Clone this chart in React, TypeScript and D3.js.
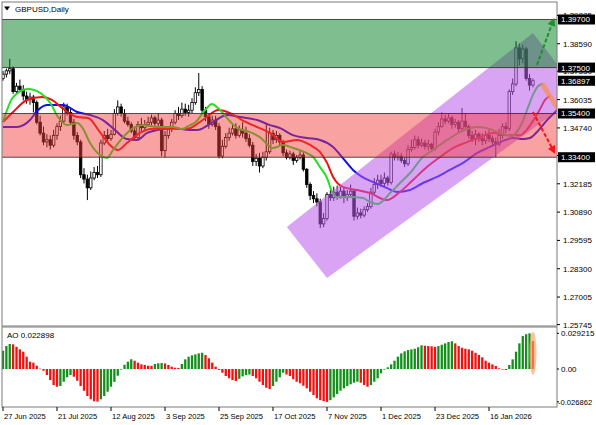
import React from 'react';
import * as d3 from 'd3';

// ---------- DATA ----------
const symbolTitle = 'GBPUSD,Daily';

// OHLC per daily bar: [open, high, low, close]
const ohlc: number[][] = [
  [1.3700,1.3735,1.3690,1.3720],[1.3720,1.3745,1.3705,1.3735],[1.3735,1.3790,1.3720,1.3745],[1.3745,1.3755,1.3630,1.3640],
  [1.3640,1.3680,1.3625,1.3665],[1.3665,1.3695,1.3640,1.3650],[1.3650,1.3670,1.3600,1.3620],[1.3620,1.3640,1.3585,1.3605],
  [1.3605,1.3635,1.3580,1.3615],[1.3615,1.3625,1.3545,1.3590],[1.3590,1.3600,1.3490,1.3500],[1.3500,1.3530,1.3440,1.3450],
  [1.3450,1.3480,1.3395,1.3410],[1.3410,1.3445,1.3385,1.3420],[1.3420,1.3440,1.3375,1.3395],[1.3395,1.3465,1.3385,1.3440],
  [1.3440,1.3495,1.3420,1.3480],[1.3480,1.3530,1.3460,1.3505],[1.3505,1.3590,1.3495,1.3570],[1.3570,1.3585,1.3530,1.3545],
  [1.3545,1.3560,1.3490,1.3500],[1.3500,1.3515,1.3420,1.3440],[1.3440,1.3455,1.3395,1.3410],[1.3410,1.3420,1.3245,1.3260],
  [1.3260,1.3290,1.3220,1.3240],[1.3240,1.3260,1.3144,1.3200],[1.3200,1.3275,1.3190,1.3245],[1.3245,1.3295,1.3235,1.3270],
  [1.3270,1.3300,1.3245,1.3260],[1.3260,1.3420,1.3250,1.3405],[1.3405,1.3460,1.3395,1.3440],[1.3440,1.3470,1.3410,1.3425],
  [1.3425,1.3465,1.3415,1.3445],[1.3445,1.3560,1.3440,1.3540],[1.3540,1.3600,1.3530,1.3570],[1.3570,1.3585,1.3525,1.3540],
  [1.3540,1.3560,1.3495,1.3505],[1.3505,1.3525,1.3480,1.3490],[1.3490,1.3500,1.3450,1.3460],[1.3460,1.3480,1.3415,1.3430],
  [1.3430,1.3505,1.3420,1.3490],[1.3490,1.3520,1.3460,1.3475],[1.3475,1.3510,1.3465,1.3490],[1.3490,1.3525,1.3480,1.3500],
  [1.3500,1.3535,1.3485,1.3520],[1.3520,1.3530,1.3480,1.3495],[1.3495,1.3540,1.3470,1.3510],[1.3510,1.3520,1.3345,1.3370],
  [1.3370,1.3460,1.3340,1.3440],[1.3440,1.3480,1.3425,1.3470],[1.3470,1.3515,1.3455,1.3500],[1.3500,1.3555,1.3490,1.3540],
  [1.3540,1.3570,1.3510,1.3530],[1.3530,1.3590,1.3520,1.3560],[1.3560,1.3585,1.3530,1.3545],[1.3545,1.3580,1.3525,1.3555],
  [1.3555,1.3610,1.3540,1.3590],[1.3590,1.3660,1.3580,1.3635],[1.3635,1.3725,1.3620,1.3650],[1.3650,1.3665,1.3540,1.3555],
  [1.3555,1.3570,1.3505,1.3525],[1.3525,1.3540,1.3470,1.3490],[1.3490,1.3530,1.3480,1.3510],[1.3510,1.3530,1.3465,1.3480],
  [1.3480,1.3495,1.3335,1.3345],[1.3345,1.3420,1.3335,1.3390],[1.3390,1.3450,1.3380,1.3430],[1.3430,1.3475,1.3415,1.3450],
  [1.3450,1.3490,1.3440,1.3470],[1.3470,1.3495,1.3425,1.3440],[1.3440,1.3485,1.3430,1.3465],[1.3465,1.3500,1.3430,1.3450],
  [1.3450,1.3480,1.3410,1.3425],[1.3425,1.3445,1.3385,1.3395],[1.3395,1.3410,1.3300,1.3320],[1.3320,1.3355,1.3300,1.3335],
  [1.3335,1.3360,1.3270,1.3300],[1.3300,1.3365,1.3290,1.3340],[1.3340,1.3490,1.3325,1.3365],[1.3365,1.3475,1.3355,1.3450],
  [1.3450,1.3465,1.3400,1.3420],[1.3420,1.3460,1.3405,1.3440],[1.3440,1.3450,1.3395,1.3410],[1.3410,1.3420,1.3345,1.3360],
  [1.3360,1.3375,1.3330,1.3340],[1.3340,1.3370,1.3330,1.3355],[1.3355,1.3365,1.3305,1.3325],[1.3325,1.3350,1.3315,1.3340],
  [1.3340,1.3370,1.3330,1.3350],[1.3350,1.3365,1.3275,1.3285],[1.3285,1.3290,1.3200,1.3215],[1.3215,1.3225,1.3144,1.3165],
  [1.3165,1.3185,1.3130,1.3150],[1.3150,1.3175,1.3115,1.3135],[1.3135,1.3150,1.3016,1.3035],[1.3035,1.3085,1.3020,1.3060],
  [1.3060,1.3180,1.3050,1.3170],[1.3170,1.3190,1.3140,1.3155],[1.3155,1.3205,1.3140,1.3180],[1.3180,1.3210,1.3145,1.3160],
  [1.3160,1.3205,1.3150,1.3185],[1.3185,1.3200,1.3130,1.3155],[1.3155,1.3190,1.3140,1.3170],[1.3170,1.3215,1.3160,1.3185],
  [1.3185,1.3195,1.3050,1.3070],[1.3070,1.3110,1.3055,1.3085],[1.3085,1.3105,1.3060,1.3075],[1.3075,1.3115,1.3065,1.3100],
  [1.3100,1.3130,1.3090,1.3115],[1.3115,1.3200,1.3105,1.3180],[1.3180,1.3245,1.3170,1.3215],[1.3215,1.3260,1.3195,1.3235],
  [1.3235,1.3260,1.3205,1.3220],[1.3220,1.3270,1.3205,1.3245],[1.3245,1.3255,1.3210,1.3225],[1.3225,1.3365,1.3215,1.3355],
  [1.3355,1.3370,1.3325,1.3340],[1.3340,1.3365,1.3325,1.3345],[1.3345,1.3360,1.3315,1.3325],[1.3325,1.3340,1.3295,1.3310],
  [1.3310,1.3395,1.3300,1.3375],[1.3375,1.3420,1.3365,1.3385],[1.3385,1.3440,1.3375,1.3420],[1.3420,1.3435,1.3380,1.3395],
  [1.3395,1.3425,1.3385,1.3405],[1.3405,1.3420,1.3375,1.3390],[1.3390,1.3420,1.3370,1.3400],[1.3400,1.3405,1.3365,1.3380],
  [1.3380,1.3470,1.3370,1.3455],[1.3455,1.3500,1.3440,1.3480],[1.3480,1.3545,1.3475,1.3515],[1.3515,1.3535,1.3490,1.3505],
  [1.3505,1.3540,1.3495,1.3520],[1.3520,1.3530,1.3470,1.3490],[1.3490,1.3515,1.3475,1.3500],[1.3500,1.3510,1.3455,1.3470],
  [1.3470,1.3565,1.3460,1.3505],[1.3505,1.3540,1.3465,1.3480],[1.3480,1.3490,1.3425,1.3440],[1.3440,1.3460,1.3410,1.3420],
  [1.3420,1.3465,1.3395,1.3445],[1.3445,1.3455,1.3410,1.3425],[1.3425,1.3450,1.3395,1.3415],[1.3415,1.3460,1.3400,1.3440],
  [1.3440,1.3465,1.3410,1.3425],[1.3425,1.3440,1.3395,1.3410],[1.3410,1.3430,1.3340,1.3400],[1.3400,1.3470,1.3390,1.3440],
  [1.3440,1.3495,1.3425,1.3480],[1.3480,1.3500,1.3450,1.3470],[1.3470,1.3650,1.3460,1.3640],[1.3640,1.3700,1.3625,1.3675],
  [1.3675,1.3870,1.3665,1.3840],[1.3840,1.3860,1.3760,1.3790],[1.3790,1.3855,1.3770,1.3835],[1.3835,1.3845,1.3690,1.3700],
  [1.3700,1.3720,1.3645,1.3670],[1.3670,1.3700,1.3660,1.36897],
];

// Alligator lines: [bar index, price] (shifted forward beyond last bar)
const lipsLine: number[][] = [
  [0,1.3501],[3,1.3615],[7.4,1.3652],[11,1.3634],[14,1.3588],[16.3,1.3524],[19,1.3487],[22,1.3496],[23.4,1.3478],
  [25.8,1.3405],[28.7,1.3350],[30.8,1.3336],[32.6,1.3373],[35.6,1.3432],[38.5,1.3473],[41.5,1.3487],[45.6,1.3478],
  [50.4,1.3478],[53,1.3469],[55.4,1.3487],[57,1.3500],[59.9,1.3556],[61.9,1.3583],[63.7,1.3565],[66.4,1.3519],
  [69.3,1.3474],[73.2,1.3455],[76.1,1.3432],[80,1.3382],[83,1.3396],[86,1.3382],[90,1.3359],[91.9,1.3341],
  [93.9,1.3295],[96,1.3245],[97.5,1.3181],[99,1.3158],[102.8,1.3158],[106.7,1.3153],[108.7,1.3135],[111,1.3126],
  [114.7,1.3176],[117.6,1.3222],[120.6,1.3268],[124.4,1.3341],[127.4,1.3373],[131.6,1.3419],[135.4,1.3455],
  [138.4,1.3473],[140.7,1.3478],[143.4,1.3473],[147.3,1.3451],[150.8,1.3437],[152.6,1.3464],[154.1,1.3510],
  [155.6,1.3570],[157,1.3625],[158.5,1.3665],[160,1.3676],
];
const teethLine: number[][] = [
  [0,1.3501],[3,1.3547],[7.1,1.3602],[11.6,1.3615],[14.5,1.3602],[17.5,1.3565],[22,1.3524],[25.2,1.3519],
  [28.7,1.3455],[31.7,1.3396],[34,1.3373],[36.7,1.3405],[40.6,1.3451],[43.6,1.3469],[48.6,1.3473],[52.4,1.3469],
  [55.4,1.3473],[57,1.3487],[60.4,1.3524],[63.7,1.3556],[67.3,1.3542],[70.8,1.3510],[75.3,1.3478],[79.1,1.3451],
  [83,1.3409],[87.1,1.3419],[91,1.3396],[93.9,1.3364],[96,1.3314],[97.8,1.3250],[100.7,1.3204],[104.9,1.3190],
  [108.7,1.3176],[113.8,1.3144],[117.6,1.3181],[121.5,1.3236],[125.6,1.3295],[129.5,1.3341],[133.3,1.3382],
  [137.5,1.3409],[141.3,1.3432],[145.2,1.3451],[149.3,1.3441],[153.2,1.3441],[155.2,1.3466],[157,1.3505],
  [159.1,1.3560],[160.6,1.3602],[162,1.3620],
];
const jawLine: number[][] = [
  [0,1.3478],[4.1,1.3478],[8,1.3510],[10,1.3550],[13,1.3579],[17.8,1.3579],[22,1.3547],[25.8,1.3533],
  [29.6,1.3510],[33.2,1.3464],[36.7,1.3423],[39.7,1.3419],[42.7,1.3451],[45.6,1.3464],[50.4,1.3473],[55.4,1.3464],
  [57.5,1.3464],[62.2,1.3501],[66.4,1.3533],[70.2,1.3524],[75.3,1.3510],[79.1,1.3487],[82.1,1.3473],[85.9,1.3441],
  [90,1.3428],[93.9,1.3419],[97.8,1.3387],[100.7,1.3336],[103.7,1.3282],[106.4,1.3250],[109.6,1.3227],
  [113.8,1.3199],[116.7,1.3181],[120.6,1.3190],[124.4,1.3222],[128.6,1.3250],[132.4,1.3282],[136.3,1.3314],
  [140.4,1.3359],[144.3,1.3387],[147.3,1.3409],[151.1,1.3428],[154.1,1.3423],[156.1,1.3428],[158.2,1.3455],
  [161.2,1.3510],[163.6,1.3547],[165,1.3570],
];

// Awesome Oscillator per bar
const aoValues: number[] = [
  0.0150,0.0188,0.0205,0.0202,0.0182,0.0161,0.0142,0.0101,0.0060,0.0052,0.0027,0.0003,-0.0014,-0.0049,-0.0090,-0.0131,
  -0.0145,-0.0139,-0.0104,-0.0068,-0.0049,-0.0063,-0.0096,-0.0139,-0.0178,-0.0221,-0.0248,-0.0264,-0.0267,-0.0248,-0.0221,-0.0186,
  -0.0145,-0.0105,-0.0055,-0.0005,0.0035,0.0060,0.0080,0.0068,0.0052,0.0038,0.0033,0.0027,0.0026,0.0041,0.0047,0.0049,
  0.0046,0.0033,0.0019,0.0011,0.0009,0.0041,0.0079,0.0101,0.0112,0.0120,0.0128,0.0133,0.0115,0.0088,0.0052,0.0019,
  -0.0008,-0.0030,-0.0057,-0.0076,-0.0090,-0.0098,-0.0080,-0.0060,-0.0050,-0.0045,-0.0057,-0.0076,-0.0104,-0.0131,-0.0153,-0.0164,
  -0.0139,-0.0104,-0.0068,-0.0030,-0.0045,-0.0057,-0.0084,-0.0104,-0.0117,-0.0137,-0.0158,-0.0186,-0.0213,-0.0240,-0.0255,-0.0263,
  -0.026862,-0.0255,-0.0232,-0.0205,-0.0178,-0.0158,-0.0139,-0.0125,-0.0112,-0.0104,-0.0112,-0.0131,-0.0145,-0.0131,-0.0104,-0.0076,
  -0.0035,-0.0002,0.0014,0.0038,0.0068,0.0101,0.0128,0.0145,0.0155,0.0161,0.0166,0.0178,0.0194,0.0191,0.0188,0.0186,
  0.0182,0.0188,0.0199,0.0210,0.0221,0.0227,0.0210,0.0188,0.0174,0.0166,0.0161,0.0150,0.0133,0.0115,0.0096,0.0068,
  0.0052,0.0038,0.0025,0.0006,-0.0003,-0.0008,0.0033,0.0079,0.0142,0.0210,0.0270,0.0285,0.029215,0.022898,
];

// Date axis tick labels and their bar positions
const dateLabels = ['27 Jun 2025','21 Jul 2025','12 Aug 2025','3 Sep 2025','25 Sep 2025','17 Oct 2025','7 Nov 2025','1 Dec 2025','23 Dec 2025','16 Jan 2026'];
const dateLabelBars = [0,16,32,48,64,80,96,112,128,144];

// Price axis ticks
const priceTicks = [1.25745,1.27005,1.283,1.29595,1.3089,1.32185,1.3348,1.3474,1.36035,1.3733,1.3859,1.39885];
const aoTicks = [0.029215,0,-0.026862];
const aoTickLabels = ['0.029215','0.00','-0.026862'];

// Zones and levels
const greenZone = [1.375, 1.397];
const redZone = [1.334, 1.354];
const levelPrices = [1.397, 1.375, 1.354, 1.334];
const currentPrice = 1.36897;
const currentAO = 0.022898;

// Rising channel polygon [bar, price]
const channel: number[][] = [[84.1,1.30208],[96.0,1.27875],[171.2,1.36291],[157.0,1.39081]];

// Forecast arrows [bar, price]
const greenArrow: number[][] = [[158.2,1.3762],[163.3,1.3977]];
const redArrow: number[][] = [[157.0,1.3547],[163.6,1.3355]];
const orangePath: number[][] = [[160.0,1.3670],[164.6,1.3556]];

// ---------- LAYOUT ----------
const W = 596, H = 425;
const L = 2, R = 557, T = 2, B = 326, AT = 327, AB = 407;

const x = d3.scaleLinear().domain([0, 157]).range([3, 532.9]);
const y = d3.scaleLinear().domain([1.2568, 1.4050]).range([326, 2]);
const ya = d3.scaleLinear().domain([-0.0311, 0.0344]).range([407, 327]);

const FONT = '"Liberation Sans", Arial, sans-serif';

function arrowHead(p0: number[], p1: number[], len = 8, half = 4) {
  const x0 = x(p0[0]), y0 = y(p0[1]), x1 = x(p1[0]), y1 = y(p1[1]);
  const dx = x1 - x0, dy = y1 - y0;
  const d = Math.hypot(dx, dy);
  const ux = dx / d, uy = dy / d;
  const bx = x1 - ux * len, by = y1 - uy * len;
  return `${x1},${y1} ${bx - uy * half},${by + ux * half} ${bx + uy * half},${by - ux * half}`;
}

export default function App() {
  const lineGen = d3.line<number[]>().x(d => x(d[0])).y(d => y(d[1])).curve(d3.curveMonotoneX);
  const chanPts = channel.map(p => `${x(p[0])},${y(p[1])}`).join(' ');
  const bw = 2.5;

  const arrowLine = (pts: number[][], len = 8) => {
    const x0 = x(pts[0][0]), y0 = y(pts[0][1]), x1 = x(pts[1][0]), y1 = y(pts[1][1]);
    const d = Math.hypot(x1 - x0, y1 - y0);
    const k = (d - len + 1) / d;
    return { x1: x0, y1: y0, x2: x0 + (x1 - x0) * k, y2: y0 + (y1 - y0) * k };
  };
  const ga = arrowLine(greenArrow);
  const ra = arrowLine(redArrow);

  return (
    <svg width={W} height={H} style={{ position: 'absolute', left: 0, top: 0, background: '#fff' }} fontFamily={FONT}>
      <defs>
        <clipPath id="mainClip"><rect x={L} y={T} width={R - L} height={B - T} /></clipPath>
        <clipPath id="aoClip"><rect x={L} y={AT} width={R - L} height={AB - AT} /></clipPath>
      </defs>
      <rect x={0} y={0} width={W} height={H} fill="#fff" />

      <g clipPath="url(#mainClip)">
        {/* candles */}
        {ohlc.map((c, i) => {
          const [o, h, l, cl] = c;
          const bull = cl >= o;
          const top = y(Math.max(o, cl)), bot = y(Math.min(o, cl));
          return (
            <g key={i}>
              <line x1={x(i)} x2={x(i)} y1={y(h)} y2={y(l)} stroke="#000" strokeWidth={1} />
              <rect x={x(i) - bw / 2} y={top} width={bw} height={Math.max(0.8, bot - top)}
                fill={bull ? '#fff' : '#000'} stroke="#000" strokeWidth={0.8} />
            </g>
          );
        })}
        {/* alligator */}
        <path d={lineGen(jawLine) || ''} fill="none" stroke="#1010ee" strokeWidth={2} />
        <path d={lineGen(teethLine) || ''} fill="none" stroke="#f01010" strokeWidth={2} />
        <path d={lineGen(lipsLine) || ''} fill="none" stroke="#22e022" strokeWidth={2} />

        {/* overlays */}
        <polygon points={chanPts} fill="rgba(185,90,235,0.55)" />
        <rect x={L} y={y(redZone[1])} width={R - L} height={y(redZone[0]) - y(redZone[1])} fill="rgba(243,60,60,0.48)" />
        <rect x={L} y={y(greenZone[1])} width={R - L} height={y(greenZone[0]) - y(greenZone[1])} fill="rgba(0,128,32,0.5)" />
        {levelPrices.map((p, i) => (
          <line key={i} x1={L} x2={R} y1={y(p)} y2={y(p)} stroke="#3a2a2a" strokeOpacity={0.85} strokeWidth={1} />
        ))}

        {/* forecast arrows */}
        <line x1={x(orangePath[0][0])} y1={y(orangePath[0][1])} x2={x(orangePath[1][0])} y2={y(orangePath[1][1])}
          stroke="rgba(255,140,60,0.65)" strokeWidth={5} strokeLinecap="round" />
        <line {...ga} stroke="#1f8f2a" strokeWidth={2} strokeDasharray="4,2" />
        <polygon points={arrowHead(greenArrow[0], greenArrow[1])} fill="#1f8f2a" />
        <line {...ra} stroke="#f01818" strokeWidth={2} strokeDasharray="4,2" />
        <polygon points={arrowHead(redArrow[0], redArrow[1])} fill="#f01818" />
      </g>

      {/* AO histogram */}
      <g clipPath="url(#aoClip)">
        {aoValues.map((v, i) => {
          const up = i === 0 ? true : v > aoValues[i - 1];
          const y0 = ya(0), y1 = ya(v);
          return <rect key={i} x={x(i) - 1.15} width={2.3} y={Math.min(y0, y1)} height={Math.max(0.6, Math.abs(y1 - y0))}
            fill={up ? '#12901a' : '#f01010'} />;
        })}
        <ellipse cx={x(157)} cy={ya(0.0130)} rx={3.6} ry={21.5} fill="rgba(255,160,100,0.65)" />
      </g>

      {/* frames */}
      <rect x={L} y={T} width={R - L} height={B - T} fill="none" stroke="#7a7a7a" strokeWidth={1} />
      <rect x={L} y={AT} width={R - L} height={AB - AT} fill="none" stroke="#7a7a7a" strokeWidth={1} />

      {/* title */}
      <polygon points="4,6.5 10,6.5 7,10.5" fill="#000" />
      <text x={15} y={12} fontSize={8} fill="#000">{symbolTitle}</text>

      {/* price axis */}
      {priceTicks.map((p, i) => (
        <g key={i}>
          <line x1={R} x2={R + 3} y1={y(p)} y2={y(p)} stroke="#000" />
          <text x={R + 6} y={y(p) + 3} fontSize={8} fill="#000">{p.toFixed(5)}</text>
        </g>
      ))}
      {[...levelPrices, currentPrice].map((p, i) => (
        <g key={'b' + i}>
          <rect x={R + 1} y={y(p) - 5} width={37} height={10} fill="#000" />
          <text x={R + 4} y={y(p) + 3} fontSize={8} fill="#fff">{p.toFixed(5)}</text>
        </g>
      ))}

      {/* AO axis */}
      <text x={7} y={338} fontSize={8} fill="#000">{`AO ${currentAO.toFixed(6)}`}</text>
      {aoTicks.map((v, i) => (
        <g key={i}>
          <line x1={R} x2={R + 2} y1={ya(v)} y2={ya(v)} stroke="#000" />
          <text x={v < 0 ? R + 1 : R + 4} y={ya(v) + 3} fontSize={v < 0 ? 7.6 : 8} fill="#000">{aoTickLabels[i]}</text>
        </g>
      ))}

      {/* date axis */}
      {dateLabelBars.map((b, i) => (
        <g key={i}>
          <line x1={x(b)} x2={x(b)} y1={AB} y2={AB + 4} stroke="#000" />
          <text x={x(b) + 1} y={419} fontSize={7.6} fill="#000">{dateLabels[i]}</text>
        </g>
      ))}
    </svg>
  );
}
